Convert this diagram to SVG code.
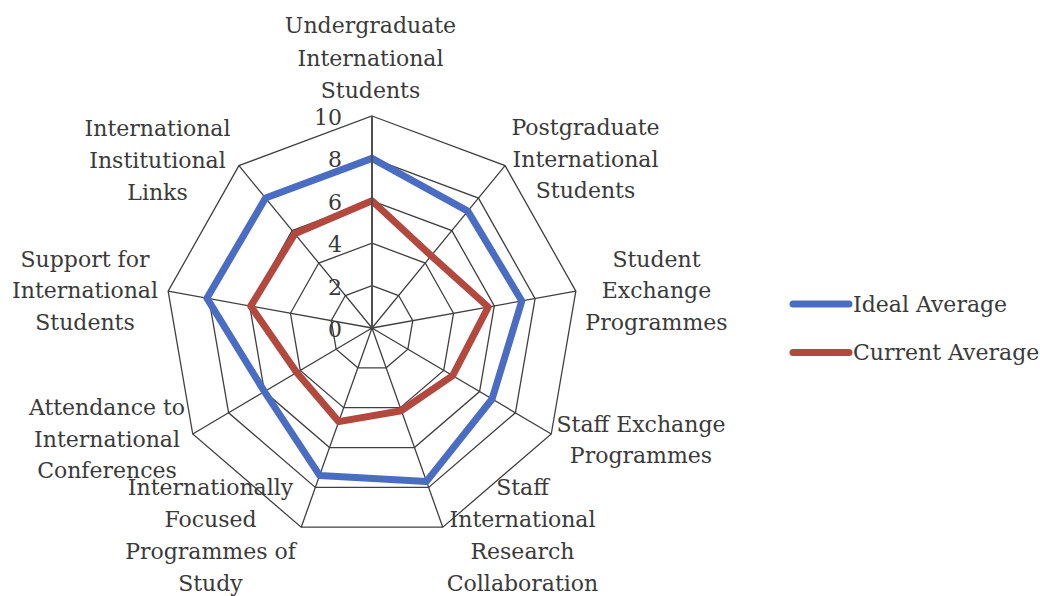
<svg xmlns="http://www.w3.org/2000/svg" width="1040" height="596" viewBox="0 0 1040 596">
<style>
.grid{fill:none;stroke:#404040;stroke-width:1.3}
.lbl{font-family:"DejaVu Serif","Liberation Serif",serif;font-size:22px;fill:#3a3a3a;text-anchor:middle}
.num{font-family:"DejaVu Serif","Liberation Serif",serif;font-size:22px;fill:#3a3a3a;text-anchor:end}
.leg{font-family:"DejaVu Serif","Liberation Serif",serif;font-size:22px;fill:#3a3a3a}
.ser{fill:none;stroke-width:7;stroke-linejoin:round;stroke-linecap:round}
.ideal{stroke:#4a6cc2}
.current{stroke:#b3483f}
</style>
<rect width="1040" height="596" fill="#ffffff"/>
<g id="grid">
<polygon class="grid" points="372,116 505.06,165.61 575.85,291.2 551.26,434 442.79,527.22 301.21,527.22 192.74,434 168.15,291.2 238.94,165.61"/>
<polygon class="grid" points="372,158.4 478.45,198.09 535.08,298.56 515.41,412.8 428.63,487.38 315.37,487.38 228.59,412.8 208.92,298.56 265.55,198.09"/>
<polygon class="grid" points="372,200.8 451.84,230.57 494.31,305.92 479.56,391.6 414.47,447.53 329.53,447.53 264.44,391.6 249.69,305.92 292.16,230.57"/>
<polygon class="grid" points="372,243.2 425.22,263.04 453.54,313.28 443.7,370.4 400.32,407.69 343.68,407.69 300.3,370.4 290.46,313.28 318.78,263.04"/>
<polygon class="grid" points="372,285.6 398.61,295.52 412.77,320.64 407.85,349.2 386.16,367.84 357.84,367.84 336.15,349.2 331.23,320.64 345.39,295.52"/>
<path class="grid" d="M372,328L505.06,165.61M372,328L575.85,291.2M372,328L551.26,434M372,328L442.79,527.22M372,328L301.21,527.22M372,328L192.74,434M372,328L168.15,291.2M372,328L238.94,165.61"/>
</g>
<g id="series">
<polygon id="ideal-average" class="ser ideal" points="372,158.4 467.8,211.08 521.83,300.95 492.1,399.02 426.51,481.4 319.62,475.42 264.44,391.6 206.88,298.19 265.55,198.09"/>
<polygon id="current-average" class="ser current" points="372,200.8 431.21,255.74 488.19,307.02 452.67,375.7 401.38,410.68 338.73,421.63 296.71,372.52 250.71,306.1 294.83,233.81"/>
</g>
<g id="value-axis">
<line x1="372" y1="328" x2="372" y2="116" stroke="#505050" stroke-width="2"/>
<text class="num" x="342" y="125">10</text>
<text class="num" x="342" y="167.4">8</text>
<text class="num" x="342" y="209.8">6</text>
<text class="num" x="342" y="252.2">4</text>
<text class="num" x="342" y="294.6">2</text>
<text class="num" x="342" y="337">0</text>
</g>
<g id="axis-labels">
<g id="label-undergraduate"><text class="lbl" x="370.5" y="33">Undergraduate</text><text class="lbl" x="370.5" y="65.5">International</text><text class="lbl" x="370.5" y="98">Students</text></g>
<g id="label-postgraduate"><text class="lbl" x="585.5" y="135">Postgraduate</text><text class="lbl" x="585.5" y="166.7">International</text><text class="lbl" x="585.5" y="198.3">Students</text></g>
<g id="label-student-exchange"><text class="lbl" x="656.5" y="266.7">Student</text><text class="lbl" x="656.5" y="298.3">Exchange</text><text class="lbl" x="656.5" y="330">Programmes</text></g>
<g id="label-staff-exchange"><text class="lbl" x="641" y="431.7">Staff Exchange</text><text class="lbl" x="641" y="463.3">Programmes</text></g>
<g id="label-staff-research"><text class="lbl" x="522.5" y="495">Staff</text><text class="lbl" x="522.5" y="527">International</text><text class="lbl" x="522.5" y="559">Research</text><text class="lbl" x="522.5" y="590.5">Collaboration</text></g>
<g id="label-programmes"><text class="lbl" x="210.5" y="495">Internationally</text><text class="lbl" x="210.5" y="527">Focused</text><text class="lbl" x="210.5" y="559">Programmes of</text><text class="lbl" x="210.5" y="590.5">Study</text></g>
<g id="label-conferences"><text class="lbl" x="107" y="415">Attendance to</text><text class="lbl" x="107" y="446.7">International</text><text class="lbl" x="107" y="478.3">Conferences</text></g>
<g id="label-support"><text class="lbl" x="85" y="266.7">Support for</text><text class="lbl" x="85" y="298.3">International</text><text class="lbl" x="85" y="330">Students</text></g>
<g id="label-links"><text class="lbl" x="157.5" y="136">International</text><text class="lbl" x="157.5" y="168">Institutional</text><text class="lbl" x="157.5" y="199.5">Links</text></g>
</g>
<g id="legend">
<g id="legend-ideal"><line class="ser ideal" x1="793" y1="304" x2="849" y2="304" stroke-width="8"/><text class="leg" x="853" y="311.7">Ideal Average</text></g>
<g id="legend-current"><line class="ser current" x1="793" y1="352.5" x2="849" y2="352.5" stroke-width="8"/><text class="leg" x="853" y="360">Current Average</text></g>
</g>
</svg>
